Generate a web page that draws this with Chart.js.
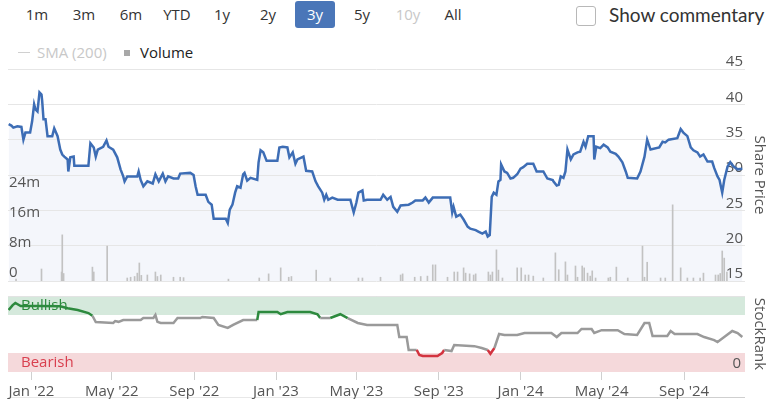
<!DOCTYPE html>
<html>
<head>
<meta charset="utf-8">
<script src="https://cdn.jsdelivr.net/npm/chart.js@4.4.1/dist/chart.umd.min.js"></script>
<style>
    body {
        margin: 0;
        width: 768px;
        height: 399px;
        position: relative;
        overflow: hidden;
        background: #fff;
        font-family: "Open Sans", sans-serif;
    }
    .range {
        position: absolute;
        top: 4px;
        font-size: 15px;
        color: #333;
        transform: translateX(-50%);
    }
    .range.off { color: #c8c8c8; }
    .range.on { color: #fff; }
    #active {
        position: absolute;
        left: 295px; top: 1px; width: 40px; height: 27px;
        background: #4a76b8;
        border-radius: 3px;
    }
    #box {
        position: absolute;
        left: 576px; top: 6px; width: 18px; height: 18px;
        border: 1px solid #b8b8b8;
        border-radius: 3px;
    }
    #commentary {
        position: absolute;
        left: 609px; top: 3px;
        font-family: Lato, sans-serif;
        font-size: 19px;
        color: #333;
    }
    .legend { position: absolute; top: 42px; font-size: 15px; }
    canvas { position: absolute; left: 0; }
    #priceChart { top: 40px; }
    #rankChart { top: 285px; }
    .rail { position: absolute; top: 397px; height: 1px; background: #e8e8e8; }
</style>
</head>
<body>
<div id="active"></div>
<span class="range" style="left:37px">1m</span>
<span class="range" style="left:84px">3m</span>
<span class="range" style="left:131px">6m</span>
<span class="range" style="left:177px">YTD</span>
<span class="range" style="left:222px">1y</span>
<span class="range" style="left:268px">2y</span>
<span class="range on" style="left:315px">3y</span>
<span class="range" style="left:362px">5y</span>
<span class="range off" style="left:408px">10y</span>
<span class="range" style="left:453px">All</span>
<div id="box"></div>
<span id="commentary">Show commentary</span>

<div class="legend" style="left:18px;top:52px;width:12px;height:1px;background:#d0d0d0"></div>
<span class="legend" style="left:37px;color:#c8c8c8">SMA (200)</span>
<div class="legend" style="left:124px;top:50px;width:6px;height:6px;background:#a8a8a8"></div>
<span class="legend" style="left:140px;color:#222">Volume</span>

<div class="rail" style="left:8px;width:737px"></div>
<div class="rail" style="left:514px;width:231px;background:#cfcfcf"></div>
<canvas id="priceChart" width="768" height="245"></canvas>
<canvas id="rankChart" width="768" height="114"></canvas>

<script>
// ? share price (daily closes)
var priceDates = [
    "2021-11-28", "2021-12-02", "2021-12-05", "2021-12-11", "2021-12-17", "2021-12-20", "2021-12-23", "2021-12-30",
    "2022-01-02", "2022-01-05", "2022-01-07", "2022-01-10", "2022-01-13", "2022-01-16", "2022-01-17", "2022-01-19",
    "2022-01-22", "2022-01-25", "2022-02-01", "2022-02-04", "2022-02-09", "2022-02-13", "2022-02-16", "2022-02-19",
    "2022-02-24", "2022-02-25", "2022-02-28", "2022-03-05", "2022-03-06", "2022-03-27", "2022-03-30", "2022-04-04",
    "2022-04-07", "2022-04-10", "2022-04-18", "2022-04-23", "2022-04-26", "2022-05-03", "2022-05-09", "2022-05-14",
    "2022-05-18", "2022-05-20", "2022-05-24", "2022-06-08", "2022-06-10", "2022-06-13", "2022-06-17", "2022-06-23",
    "2022-07-01", "2022-07-05", "2022-07-10", "2022-07-16", "2022-07-20", "2022-07-24", "2022-08-01", "2022-08-08",
    "2022-08-11", "2022-08-26", "2022-08-31", "2022-09-03", "2022-09-06", "2022-09-18", "2022-09-22", "2022-09-27",
    "2022-09-30", "2022-10-18", "2022-10-21", "2022-10-24", "2022-10-28", "2022-11-01", "2022-11-04", "2022-11-09",
    "2022-11-13", "2022-11-15", "2022-11-19", "2022-11-24", "2022-12-04", "2022-12-06", "2022-12-09", "2022-12-13",
    "2022-12-18", "2023-01-03", "2023-01-06", "2023-01-11", "2023-01-18", "2023-01-21", "2023-01-26", "2023-01-30",
    "2023-02-02", "2023-02-11", "2023-02-15", "2023-02-24", "2023-03-01", "2023-03-05", "2023-03-11", "2023-03-14",
    "2023-03-17", "2023-03-20", "2023-03-26", "2023-04-03", "2023-04-22", "2023-04-25", "2023-04-27", "2023-05-01",
    "2023-05-04", "2023-05-10", "2023-05-12", "2023-05-17", "2023-06-06", "2023-06-10", "2023-06-16", "2023-06-21",
    "2023-06-25", "2023-07-01", "2023-07-06", "2023-07-18", "2023-07-24", "2023-07-28", "2023-08-08", "2023-08-12",
    "2023-08-17", "2023-08-23", "2023-09-18", "2023-09-21", "2023-09-23", "2023-09-27", "2023-10-03", "2023-10-08",
    "2023-10-14", "2023-10-18", "2023-10-26", "2023-10-30", "2023-11-05", "2023-11-10", "2023-11-13", "2023-11-16",
    "2023-11-19", "2023-11-22", "2023-11-26", "2023-11-29", "2023-12-02", "2023-12-03", "2023-12-08", "2023-12-12",
    "2023-12-17", "2023-12-21", "2023-12-27", "2024-01-01", "2024-01-05", "2024-01-11", "2024-01-20", "2024-01-25",
    "2024-02-04", "2024-02-10", "2024-02-18", "2024-02-19", "2024-02-24", "2024-02-27", "2024-03-01", "2024-03-05",
    "2024-03-08", "2024-03-11", "2024-03-16", "2024-03-20", "2024-03-26", "2024-03-30", "2024-04-04", "2024-04-07",
    "2024-04-11", "2024-04-19", "2024-04-20", "2024-04-23", "2024-04-29", "2024-05-04", "2024-05-10", "2024-05-14",
    "2024-05-22", "2024-05-26", "2024-06-01", "2024-06-06", "2024-06-09", "2024-06-23", "2024-06-28", "2024-07-04",
    "2024-07-08", "2024-07-13", "2024-07-26", "2024-07-31", "2024-08-04", "2024-08-09", "2024-08-22", "2024-08-27",
    "2024-08-31", "2024-09-06", "2024-09-11", "2024-09-15", "2024-09-21", "2024-09-25", "2024-09-30", "2024-10-06",
    "2024-10-13", "2024-10-16", "2024-10-21", "2024-10-24", "2024-10-28", "2024-10-31", "2024-11-05", "2024-11-09",
    "2024-11-14", "2024-11-20", "2024-11-27",
];
var priceValues = [
    37.2, 37.0, 36.7, 36.9, 36.8, 35.0, 36.0, 36.0,
    37.6, 40.0, 39.3, 39.0, 41.7, 41.4, 40.5, 37.9,
    37.9, 35.5, 35.5, 36.6, 35.5, 33.6, 32.9, 32.6,
    32.2, 30.5, 32.5, 32.6, 31.3, 31.3, 34.5, 33.9,
    32.6, 33.6, 34.0, 34.9, 34.0, 33.6, 32.5, 30.8,
    29.8, 29.1, 29.8, 29.8, 30.5, 29.3, 28.4, 29.1,
    28.8, 30.1, 29.1, 30.2, 29.1, 29.8, 29.5, 29.5,
    30.2, 30.3, 30.0, 28.4, 27.2, 27.2, 26.2, 25.8,
    23.8, 23.8, 23.2, 25.1, 25.8, 27.5, 28.4, 28.2,
    30.1, 30.3, 29.2, 29.6, 29.3, 31.8, 33.5, 33.2,
    32.0, 32.0, 33.9, 34.0, 33.9, 32.5, 33.2, 31.6,
    32.2, 32.6, 30.6, 30.5, 29.1, 28.4, 27.5, 26.5,
    27.2, 26.5, 26.8, 26.5, 26.5, 25.4, 24.7, 26.1,
    27.5, 27.8, 26.4, 26.5, 26.5, 27.2, 26.5, 26.9,
    25.5, 24.8, 25.7, 25.8, 26.1, 26.4, 26.4, 26.8,
    26.1, 26.8, 26.8, 24.7, 25.5, 24.1, 24.4, 23.7,
    22.7, 22.4, 22.2, 22.0, 21.7, 22.0, 21.3, 21.5,
    26.9, 27.5, 27.2, 29.1, 29.3, 31.5, 30.5, 30.3,
    29.5, 29.6, 30.1, 30.9, 31.1, 31.6, 31.6, 30.5,
    30.5, 29.5, 29.3, 29.1, 28.5, 28.6, 29.8, 29.6,
    30.5, 33.6, 32.2, 32.9, 33.2, 33.3, 34.7, 34.0,
    35.5, 35.5, 32.2, 34.0, 33.8, 34.3, 33.9, 33.3,
    33.0, 32.6, 31.8, 30.5, 29.6, 29.5, 30.5, 32.6,
    35.0, 33.6, 33.9, 34.7, 34.6, 35.0, 35.2, 36.5,
    36.0, 35.5, 33.9, 33.5, 33.2, 32.6, 32.9, 31.9,
    31.9, 31.0, 29.8, 29.3, 27.5, 29.3, 31.2, 31.8,
    31.2, 30.8, 30.9,
];

// ? traded volume, millions of shares
var volumeDates = [
    "2021-12-09", "2022-01-16", "2022-02-15", "2022-02-16", "2022-02-18", "2022-04-02", "2022-04-04", "2022-04-24",
    "2022-05-24", "2022-05-29", "2022-06-04", "2022-06-08", "2022-06-11", "2022-06-14", "2022-06-23", "2022-07-05",
    "2022-07-08", "2022-07-13", "2022-08-01", "2022-08-11", "2022-08-16", "2022-10-22", "2022-12-07", "2022-12-21",
    "2023-01-08", "2023-01-20", "2023-01-24", "2023-03-02", "2023-03-23", "2023-05-04", "2023-05-10", "2023-06-06",
    "2023-07-06", "2023-07-09", "2023-07-27", "2023-08-05", "2023-08-15", "2023-08-23", "2023-08-27", "2023-09-14",
    "2023-09-24", "2023-09-29", "2023-10-08", "2023-10-11", "2023-10-17", "2023-10-23", "2023-10-26", "2023-11-14",
    "2023-11-17", "2023-11-20", "2023-11-26", "2023-11-29", "2023-12-05", "2023-12-27", "2024-01-02", "2024-01-08",
    "2024-01-13", "2024-01-20", "2024-02-04", "2024-02-22", "2024-02-27", "2024-03-08", "2024-03-11", "2024-03-23",
    "2024-03-26", "2024-04-02", "2024-04-05", "2024-04-10", "2024-04-14", "2024-04-17", "2024-04-22", "2024-05-11",
    "2024-05-14", "2024-05-23", "2024-06-09", "2024-07-01", "2024-07-04", "2024-07-08", "2024-07-28", "2024-08-04",
    "2024-08-15", "2024-08-27", "2024-09-06", "2024-09-15", "2024-09-25", "2024-09-30", "2024-10-18", "2024-10-22",
    "2024-10-25", "2024-10-28", "2024-10-31", "2024-11-04",
];
var volumeValues = [
    0.5, 3.2, 2.4, 12.3, 2.0, 3.7, 2.4, 9.3,
    0.8, 1.0, 1.2, 2.1, 4.8, 1.5, 1.6, 2.4,
    1.2, 1.6, 1.0, 1.0, 0.9, 0.5, 0.8, 1.9,
    3.5, 1.0, 1.2, 2.9, 0.8, 0.8, 0.8, 1.0,
    1.6, 1.9, 1.0, 1.2, 1.3, 4.3, 4.3, 1.0,
    2.4, 2.4, 3.5, 2.1, 1.9, 1.6, 1.9, 2.4,
    1.6, 2.4, 8.3, 2.9, 0.8, 3.5, 3.5, 1.6,
    1.6, 1.3, 0.8, 7.5, 3.0, 5.1, 1.6, 4.0,
    1.0, 4.0, 3.5, 2.1, 1.3, 2.7, 0.8, 0.8,
    1.0, 3.7, 0.8, 9.3, 1.0, 5.0, 0.8, 0.8,
    20.3, 3.5, 0.8, 0.8, 0.8, 2.1, 1.6, 1.6,
    2.0, 8.0, 6.1, 2.4,
];

// ? StockRank score (0 - 100)
var rankDates = [
    "2021-11-28", "2021-12-04", "2021-12-08", "2021-12-16", "2022-01-14", "2022-02-13", "2022-02-24", "2022-03-11",
    "2022-03-27", "2022-04-02", "2022-04-07", "2022-05-03", "2022-05-06", "2022-05-11", "2022-05-18", "2022-06-13",
    "2022-06-17", "2022-07-02", "2022-07-05", "2022-07-08", "2022-07-13", "2022-08-01", "2022-08-07", "2022-09-10",
    "2022-09-13", "2022-09-30", "2022-10-07", "2022-10-21", "2022-10-29", "2022-11-13", "2022-12-04", "2022-12-06",
    "2023-01-03", "2023-01-08", "2023-01-18", "2023-02-21", "2023-03-04", "2023-03-08", "2023-03-23", "2023-04-07",
    "2023-04-18", "2023-05-03", "2023-05-17", "2023-07-01", "2023-07-04", "2023-07-15", "2023-07-18", "2023-07-30",
    "2023-08-03", "2023-08-08", "2023-08-30", "2023-09-06", "2023-09-09", "2023-09-20", "2023-09-24", "2023-10-24",
    "2023-11-04", "2023-11-13", "2023-11-17", "2023-11-23", "2023-11-30", "2023-12-08", "2023-12-27", "2024-01-07",
    "2024-02-16", "2024-02-24", "2024-03-02", "2024-03-26", "2024-04-01", "2024-04-16", "2024-04-20", "2024-05-01",
    "2024-05-25", "2024-06-04", "2024-06-23", "2024-07-04", "2024-07-11", "2024-07-16", "2024-08-07", "2024-08-12",
    "2024-08-18", "2024-09-21", "2024-10-01", "2024-10-16", "2024-10-21", "2024-10-31", "2024-11-12", "2024-11-20",
    "2024-11-27",
];
var rankValues = [
    81.6, 88, 90.8, 86.8, 87, 86.5, 84, 81.6,
    77.6, 74, 65.8, 64.5, 67, 66, 68.4, 68.4,
    71, 71, 75, 66, 64.5, 64.5, 71, 71,
    72.4, 71, 62, 58, 62, 68.4, 68.4, 79,
    79, 76, 79, 79, 76, 71, 71, 76,
    71, 64.5, 62, 62, 46, 46, 29, 29,
    22.4, 21, 21, 25, 29, 27.6, 35.5, 34,
    31.6, 29, 24, 31.6, 50, 48.7, 48.7, 51.3,
    51.3, 46, 51.3, 51.3, 56.6, 56.6, 51.3, 55,
    55, 50, 48.7, 64.5, 64.5, 47.4, 47.4, 54,
    50, 50, 46, 42, 39.5, 46, 54, 51.3,
    46,
];
var bullishFrom = 75;
var bearishTo = 25;

// ? axes
var xStart = "2021-11-27";
var xEnd = "2024-12-01";
var tickDates = [
    "2022-01-01", "2022-05-01", "2022-09-01", "2023-01-01", "2023-05-01",
    "2023-09-01", "2024-01-01", "2024-05-01", "2024-09-01",
];
var tickLabels = [
    "Jan '22", "May '22", "Sep '22", "Jan '23", "May '23",
    "Sep '23", "Jan '24", "May '24", "Sep '24",
];
var priceTicks = [15, 20, 25, 30, 35, 40, 45];
var volumeTicks = [0, 8, 16, 24];

function toMs(d) {
    var p = d.split("-");
    return Date.UTC(+p[0], +p[1] - 1, +p[2]);
}

function points(dates, values) {
    return dates.map(function (d, i) {
        return { x: toMs(d), y: values[i] };
    });
}

var font = { family: "'Open Sans', sans-serif", size: 15 };
var textColor = "#555";

// right-hand axes are fixed width so both panels line up
function fixAxis(width) {
    return function (s) {
        s.width = width;
        s.paddingTop = 0;
        s.paddingBottom = 0;
    };
}

let priceChart = new Chart(document.getElementById("priceChart"), {
    type: "line",
    data: {
        datasets: [
            {
                label: "Share Price",
                data: points(priceDates, priceValues),
                borderColor: "#3d6db5",
                borderWidth: 2.5,
                backgroundColor: "#f4f6fb",
                fill: "start",
                pointRadius: 0,
                tension: 0,
                yAxisID: "price",
                order: 1,
            },
            {
                type: "bar",
                label: "Volume",
                data: points(volumeDates, volumeValues),
                backgroundColor: "#c2c2c2",
                barThickness: 1,
                yAxisID: "volume",
                order: 2,
            },
        ],
    },
    options: {
        responsive: false,
        animation: false,
        layout: { padding: { left: 8, right: 0, top: 29, bottom: 4 } },
        plugins: {
            legend: { display: false },
            tooltip: { enabled: false },
            // fill first, so grid lines and tick labels stay visible on top
            filler: { drawTime: "beforeDraw" },
        },
        scales: {
            x: {
                type: "linear",
                min: toMs(xStart),
                max: toMs(xEnd),
                offset: false,
                display: false,
            },
            volume: {
                type: "linear",
                position: "left",
                min: 0,
                max: 56.5,
                grid: { display: false },
                border: { display: false },
                afterBuildTicks: function (s) {
                    s.ticks = volumeTicks.map(function (v) { return { value: v }; });
                },
                ticks: {
                    mirror: true,
                    padding: 1,
                    labelOffset: -8,
                    color: textColor,
                    font: font,
                    callback: function (v) {
                        return v === 0 ? "0" : v + "m";
                    },
                },
                afterFit: fixAxis(0),
            },
            price: {
                type: "linear",
                position: "right",
                min: 15,
                max: 45,
                grid: { color: "#e6e6e6", drawTicks: false },
                border: { display: false },
                afterBuildTicks: function (s) {
                    s.ticks = priceTicks.map(function (v) { return { value: v }; });
                },
                ticks: {
                    mirror: true,
                    padding: -2,
                    labelOffset: -7,
                    color: textColor,
                    font: font,
                },
                title: {
                    display: true,
                    text: "Share Price",
                    color: textColor,
                    font: font,
                    padding: 0,
                },
                afterFit: fixAxis(23),
            },
        },
    },
});

// ? Bullish / Bearish bands behind the StockRank line
var bandPlugin = {
    id: "bands",
    beforeDraw: function (chart) {
        var ctx = chart.ctx;
        var area = chart.chartArea;
        var y = chart.scales.y;
        var top = y.getPixelForValue(100);
        var bull = y.getPixelForValue(bullishFrom);
        var bear = y.getPixelForValue(bearishTo);
        var zero = y.getPixelForValue(0);
        ctx.save();
        ctx.fillStyle = "#d5e9dc";
        ctx.fillRect(area.left, top, area.right - area.left, bull - top);
        ctx.fillStyle = "#f5d9db";
        ctx.fillRect(area.left, bear, area.right - area.left, zero - bear);
        ctx.font = "15px 'Open Sans', sans-serif";
        ctx.textBaseline = "middle";
        ctx.fillStyle = "#2d8a3e";
        ctx.fillText("Bullish", area.left + 13, (top + bull) / 2);
        ctx.fillStyle = "#d9404f";
        ctx.fillText("Bearish", area.left + 13, (bear + zero) / 2);
        ctx.restore();
    },
};

let rankChart = new Chart(document.getElementById("rankChart"), {
    type: "line",
    data: {
        datasets: [
            {
                label: "StockRank",
                data: points(rankDates, rankValues),
                borderColor: "#9a9a9a",
                borderWidth: 2.5,
                pointRadius: 0,
                tension: 0,
                segment: {
                    borderColor: function (c) {
                        var a = c.p0.parsed.y;
                        var b = c.p1.parsed.y;
                        if (a > bullishFrom || b > bullishFrom) return "#2d8a3e";
                        if (a <= bearishTo || b <= bearishTo) return "#d3333f";
                        return undefined;
                    },
                },
            },
        ],
    },
    options: {
        responsive: false,
        animation: false,
        layout: { padding: { left: 8, right: 0, top: 11, bottom: 0 } },
        plugins: {
            legend: { display: false },
            tooltip: { enabled: false },
        },
        scales: {
            x: {
                type: "linear",
                min: toMs(xStart),
                max: toMs(xEnd),
                offset: false,
                grid: { drawOnChartArea: false, tickLength: 8, color: "#d0d0d0" },
                border: { display: false },
                afterBuildTicks: function (s) {
                    s.ticks = tickDates.map(function (d) { return { value: toMs(d) }; });
                },
                ticks: {
                    autoSkip: false,
                    maxRotation: 0,
                    padding: 3,
                    color: textColor,
                    font: font,
                    callback: function (v, i) {
                        return tickLabels[i];
                    },
                },
                afterFit: function (s) {
                    s.height = 27;
                    s.paddingLeft = 0;
                    s.paddingRight = 0;
                },
            },
            y: {
                position: "right",
                min: 0,
                max: 100,
                afterBuildTicks: function (s) {
                    s.ticks = [{ value: 0 }, { value: 100 }];
                },
                grid: {
                    drawTicks: false,
                    color: function (c) {
                        return c.tick && c.tick.value === 100 ? "#e3e3e3" : "rgba(0,0,0,0)";
                    },
                },
                border: { display: false },
                ticks: {
                    mirror: true,
                    padding: -4,
                    labelOffset: -8,
                    color: textColor,
                    font: font,
                    callback: function (v) {
                        return v === 0 ? "0" : "";
                    },
                },
                title: {
                    display: true,
                    text: "StockRank",
                    color: textColor,
                    font: font,
                    padding: 0,
                },
                afterFit: fixAxis(23),
            },
        },
    },
    plugins: [bandPlugin],
});
</script>
</body>
</html>
